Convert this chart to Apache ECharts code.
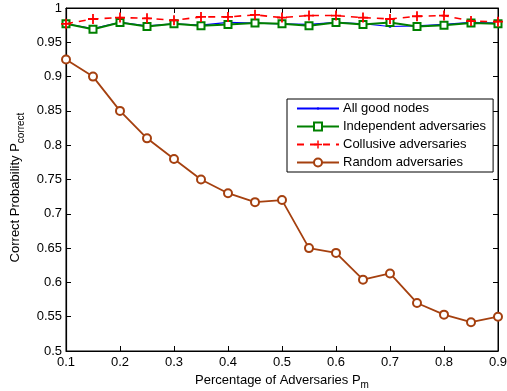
<!DOCTYPE html>
<html><head><meta charset="utf-8">
<script src="https://cdn.jsdelivr.net/npm/echarts@6/dist/echarts.min.js"></script>
<style>html,body{margin:0;padding:0;background:#fff}#c{width:507px;height:391px}</style>
</head><body><div id="c"></div>
<script>
const xValues = [0.1,0.15,0.2,0.25,0.3,0.35,0.4,0.45,0.5,0.55,0.6,0.65,0.7,0.75,0.8,0.85,0.9];
const allGood = [0.977,0.970,0.979,0.974,0.977,0.975,0.979,0.978,0.977,0.976,0.979,0.977,0.973,0.974,0.976,0.979,0.978];
const independent = [0.977,0.969,0.979,0.973,0.977,0.974,0.976,0.978,0.977,0.974,0.979,0.976,0.979,0.973,0.975,0.978,0.977];
const collusive = [0.977,0.984,0.986,0.985,0.982,0.987,0.987,0.990,0.986,0.989,0.989,0.986,0.984,0.988,0.989,0.981,0.980];
const randomAdv = [0.925,0.900,0.850,0.810,0.780,0.750,0.730,0.717,0.720,0.650,0.643,0.604,0.613,0.570,0.553,0.542,0.550];
const seriesNames = ['All good nodes','Independent adversaries','Collusive adversaries','Random adversaries'];

const pair = arr => xValues.map((x,i)=>[x,arr[i]]);
const font = 'Liberation Sans, Arial, sans-serif';
const FS = 13;
const plus = 'path://M4.1,0H5.9V4.1H10V5.9H5.9V10H4.1V5.9H0V4.1H4.1Z';
const dot = 'path://M0,0L0,0M3.8,3.8H6.2V6.2H3.8ZM10,10L10,10';
const chart = echarts.init(document.getElementById('c'));
const tickStyle = {show:true, inside:true, length:5, lineStyle:{color:'#000',width:1}};
chart.setOption({
  animation:false,
  backgroundColor:'#fff',
  grid:{left:66,right:9,top:8,bottom:40,show:true,borderColor:'#000',borderWidth:1,containLabel:false,outerBoundsMode:'none'},
  xAxis:[{type:'value',min:0.1,max:0.9,interval:0.1,
    axisLine:{show:true,onZero:false,lineStyle:{color:'#000',width:1.2}},
    axisTick:tickStyle,splitLine:{show:false},
    axisLabel:{color:'#000',fontFamily:font,fontSize:FS,margin:5,formatter:v=>String(+v.toFixed(2))},
    name:'{a|Percentage of Adversaries P}{s|m}',nameLocation:'middle',nameGap:18,
    nameTextStyle:{rich:{a:{fontFamily:font,fontSize:FS,color:'#000'},s:{fontFamily:font,fontSize:10,color:'#000',padding:[10,0,0,0]}}}},
   {type:'value',position:'top',min:0.1,max:0.9,interval:0.1,
    axisLine:{show:true,lineStyle:{color:'#000'}},axisTick:tickStyle,axisLabel:{show:false},splitLine:{show:false}}],
  yAxis:[{type:'value',min:0.5,max:1,interval:0.05,
    axisLine:{show:true,onZero:false,lineStyle:{color:'#000',width:1.2}},
    axisTick:tickStyle,splitLine:{show:false},
    axisLabel:{color:'#000',fontFamily:font,fontSize:FS,margin:4,formatter:v=>String(+v.toFixed(2))},
    name:'{a|Correct Probability P}{s|correct}',nameLocation:'middle',nameGap:34,nameRotate:90,
    nameTextStyle:{rich:{a:{fontFamily:font,fontSize:FS,color:'#000'},s:{fontFamily:font,fontSize:10,color:'#000',padding:[10,16,0,0]}}}},
   {type:'value',position:'right',min:0.5,max:1,interval:0.05,
    axisLine:{show:true,lineStyle:{color:'#000'}},axisTick:tickStyle,axisLabel:{show:false},splitLine:{show:false}}],
  legend:{orient:'vertical',left:287,top:99,backgroundColor:'#fff',borderColor:'#000',borderWidth:1,
    padding:[3,7,3,9],itemGap:5,itemWidth:42,itemHeight:10,
    textStyle:{fontFamily:font,fontSize:FS,color:'#000',padding:[0,0,0,-1]},data:seriesNames},
  series:[
    {name:seriesNames[0],type:'line',data:pair(allGood),symbol:dot,symbolSize:10,
      lineStyle:{color:'#0000ff',width:1.2},itemStyle:{color:'#0000ff',borderWidth:0},z:3},
    {name:seriesNames[1],type:'line',data:pair(independent),symbol:'emptyRect',symbolSize:7,
      lineStyle:{color:'#008000',width:2},itemStyle:{color:'#008000',borderWidth:1.6},z:4},
    {name:seriesNames[2],type:'line',data:pair(collusive),symbol:plus,symbolSize:10,
      lineStyle:{color:'#ff0000',width:1.6,type:[7,6]},itemStyle:{color:'#ff0000',borderWidth:0},z:5},
    {name:seriesNames[3],type:'line',data:pair(randomAdv),symbol:'emptyCircle',symbolSize:8,
      lineStyle:{color:'#a5400f',width:1.8},itemStyle:{color:'#a5400f',borderWidth:1.8},z:6}
  ]
});
</script></body></html>
